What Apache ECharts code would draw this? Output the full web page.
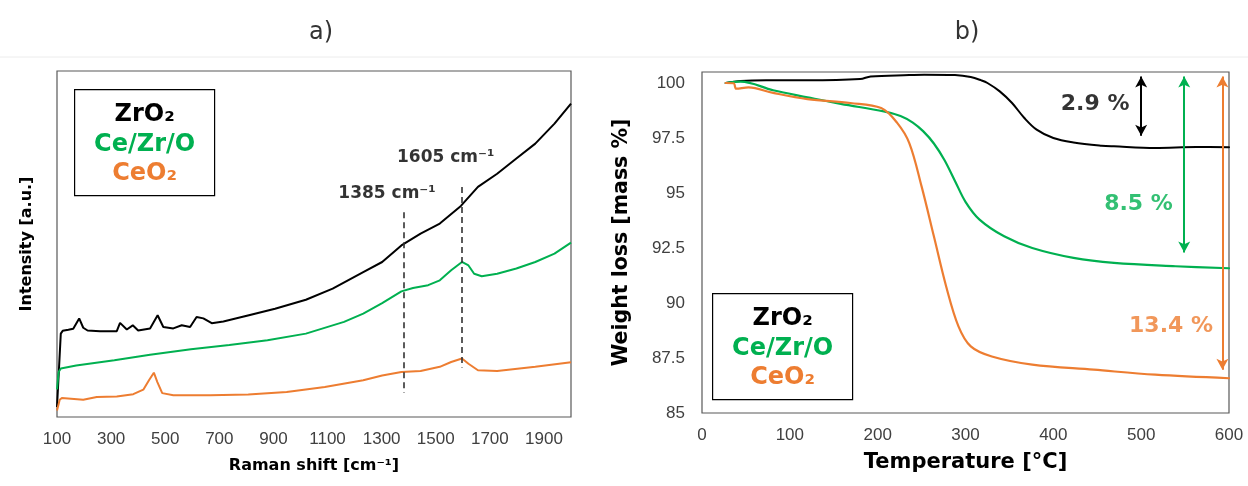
<!DOCTYPE html>
<html>
<head>
<meta charset="utf-8">
<script src="https://cdn.jsdelivr.net/npm/echarts@6/dist/echarts.min.js"></script>
<style>
html,body{margin:0;padding:0;background:#fff;}
#chart{width:1248px;height:486px;}
</style>
</head>
<body>
<div id="chart"></div>
<script>
// ---------- Panel a) Raman (arbitrary intensity units) ----------
const ramanTicks = [100, 300, 500, 700, 900, 1100, 1300, 1500, 1700, 1900];
const ramanZrO2 = [[100,2.9],[114,24.1],[121,24.9],[142,25.2],[160,25.5],[182,28.5],[197,25.8],[213,25.0],[259,24.8],[321,24.8],[333,27.2],[358,25.3],[380,26.5],[400,25.0],[444,25.6],[472,29.4],[493,26.0],[530,25.6],[561,26.5],[592,26.0],[616,28.9],[641,28.5],[672,27.1],[715,27.6],[813,29.5],[906,31.3],[1020,33.9],[1119,37.1],[1232,41.9],[1302,44.8],[1373,49.6],[1444,53.0],[1515,55.9],[1593,61.0],[1656,66.5],[1727,70.3],[1798,74.7],[1868,79.0],[1939,84.8],[2000,90.6]];
const ramanCeZrO = [[100,8.0],[106,13.0],[114,14.0],[171,14.9],[312,16.4],[444,18.0],[595,19.6],[737,20.8],[878,22.2],[1020,24.1],[1161,27.5],[1232,29.9],[1302,32.9],[1373,36.3],[1416,37.3],[1472,38.1],[1515,39.5],[1557,42.4],[1597,44.8],[1621,43.8],[1642,41.4],[1670,40.7],[1727,41.4],[1798,42.9],[1868,44.8],[1939,47.2],[2000,50.4]];
const ramanCeO2 = [[100,1.9],[110,5.0],[118,5.5],[197,5.0],[247,5.8],[321,5.9],[382,6.6],[419,7.9],[440,10.6],[458,12.8],[471,10.1],[489,6.9],[530,6.3],[666,6.3],[807,6.5],[949,7.2],[1090,8.7],[1232,10.6],[1302,12.0],[1373,13.0],[1444,13.3],[1515,14.5],[1557,15.9],[1597,16.9],[1621,15.4],[1656,13.5],[1727,13.3],[1868,14.5],[2000,15.8]];
// dashed marker lines: [x, yTop, yBottom]
const ramanMarkers = [[1380, 59.2, 7.0], [1596, 66.5, 14.3]];
const ramanMarkerLabels = ['1385 cm\u207B\u00B9', '1605 cm\u207B\u00B9'];
const ramanMarkerLabelPos = [[1320, 64.6], [1537, 75.0]];

// ---------- Panel b) TGA ----------
const tgaTicksX = [0, 100, 200, 300, 400, 500, 600];
const tgaTicksY = [85, 87.5, 90, 92.5, 95, 97.5, 100];
const tgaZrO2 = [[27,100.0],[44,100.09],[73,100.12],[120,100.12],[180,100.18],[192,100.3],[236,100.36],[253,100.38],[288,100.36],[306,100.27],[318,100.12],[325,100.0],[339,99.62],[353,99.09],[367,98.41],[381,97.88],[400,97.5],[423,97.3],[455,97.15],[469,97.12],[516,97.05],[563,97.09],[600,97.08]];
const tgaCeZrO = [[27,100.0],[44,100.06],[81,99.67],[120,99.35],[158,99.05],[207,98.71],[226,98.5],[240,98.2],[252,97.8],[264,97.25],[276,96.5],[288,95.55],[300,94.6],[316,93.79],[344,93.03],[376,92.5],[423,92.05],[469,91.82],[539,91.67],[600,91.58]];
const tgaCeO2 = [[27,100.0],[36,99.99],[39,99.74],[53,99.8],[81,99.55],[120,99.27],[169,99.09],[204,98.86],[222,98.2],[236,97.27],[250,95.3],[264,93.03],[278,90.75],[292,88.94],[306,88.03],[330,87.57],[376,87.2],[446,86.97],[516,86.74],[600,86.58]];
// loss arrows: [x, yTop, yBottom]
const lossArrows = [[500, 100.3, 97.6], [549, 100.3, 92.3], [592.5, 100.3, 86.97]];
const lossLabels = ['2.9 %', '8.5 %', '13.4 %'];
const lossLabelPos = [[447.6, 99.01], [497, 94.47], [534, 88.94]];

const names = ['ZrO\u2082', 'Ce/Zr/O', 'CeO\u2082'];
const colors = ['#000000', '#00B050', '#ED7D31'];

const tickFont = {fontFamily: 'Liberation Sans', fontSize: 17, color: '#404040'};
const boldFont = 'DejaVu Sans';

const chart = echarts.init(document.getElementById('chart'), null, {renderer: 'canvas'});

function legendGroup(x, y) {
  return {
    type: 'group', left: x, top: y,
    children: [
      {type: 'rect', shape: {x: 0, y: 0, width: 140, height: 106}, style: {fill: '#fff', stroke: '#000', lineWidth: 1.2}},
      {type: 'text', x: 70, y: 25, style: {text: names[0], fill: colors[0], font: 'bold 24px ' + boldFont, textAlign: 'center', textVerticalAlign: 'middle'}},
      {type: 'text', x: 70, y: 55, style: {text: names[1], fill: colors[1], font: 'bold 24px ' + boldFont, textAlign: 'center', textVerticalAlign: 'middle'}},
      {type: 'text', x: 70, y: 84, style: {text: names[2], fill: colors[2], font: 'bold 24px ' + boldFont, textAlign: 'center', textVerticalAlign: 'middle'}}
    ]
  };
}

const tgaLine = (data, i, w) => ({type: 'line', xAxisIndex: 1, yAxisIndex: 1, data: data, showSymbol: false, smooth: 0.35,
  lineStyle: {color: colors[i], width: w, cap: 'round', join: 'round'}, z: 3});

const option = {
  backgroundColor: '#fff',
  animation: false,
  grid: [
    {left: 57, top: 71, width: 514, height: 346, show: true, borderColor: '#595959', borderWidth: 1.2, backgroundColor: 'transparent'},
    {left: 702, top: 72, width: 527, height: 341, show: true, borderColor: '#595959', borderWidth: 1.2, backgroundColor: 'transparent'}
  ],
  xAxis: [
    {gridIndex: 0, type: 'value', min: 100, max: 2000, interval: 200,
     axisLine: {show: false}, axisTick: {show: false}, splitLine: {show: false},
     axisLabel: Object.assign({margin: 14, showMaxLabel: false, formatter: v => ramanTicks.includes(v) ? String(v) : ''}, tickFont),
     name: 'Raman shift [cm\u207B\u00B9]', nameLocation: 'middle', nameGap: 41,
     nameTextStyle: {fontFamily: boldFont, fontWeight: 'bold', fontSize: 16, color: '#000'}},
    {gridIndex: 1, type: 'value', min: 0, max: 600, interval: 100,
     axisLine: {show: false}, axisTick: {show: false}, splitLine: {show: false},
     axisLabel: Object.assign({margin: 14, formatter: v => tgaTicksX.includes(v) ? String(v) : ''}, tickFont),
     name: 'Temperature [\u00B0C]', nameLocation: 'middle', nameGap: 39,
     nameTextStyle: {fontFamily: boldFont, fontWeight: 'bold', fontSize: 21, color: '#000'}}
  ],
  yAxis: [
    {gridIndex: 0, type: 'value', min: 0, max: 100,
     axisLine: {show: false}, axisTick: {show: false}, splitLine: {show: false}, axisLabel: {show: false},
     name: 'Intensity [a.u.]', nameLocation: 'middle', nameGap: 22,
     nameTextStyle: {fontFamily: boldFont, fontWeight: 'bold', fontSize: 16, color: '#000'}},
    {gridIndex: 1, type: 'value', min: 85, max: 100.5, interval: 2.5,
     axisLine: {show: false}, axisTick: {show: false}, splitLine: {show: false},
     axisLabel: Object.assign({margin: 17, showMaxLabel: false, formatter: v => tgaTicksY.includes(v) ? String(v) : ''}, tickFont),
     name: 'Weight loss [mass %]', nameLocation: 'middle', nameGap: 70,
     nameTextStyle: {fontFamily: boldFont, fontWeight: 'bold', fontSize: 20.5, color: '#000'}}
  ],
  series: [
    {type: 'line', name: 'ramanZrO2', xAxisIndex: 0, yAxisIndex: 0, data: ramanZrO2, showSymbol: false, lineStyle: {color: colors[0], width: 2}, z: 3},
    {type: 'line', name: 'ramanCeZrO', xAxisIndex: 0, yAxisIndex: 0, data: ramanCeZrO, showSymbol: false, lineStyle: {color: colors[1], width: 2}, z: 3},
    {type: 'line', name: 'ramanCeO2', xAxisIndex: 0, yAxisIndex: 0, data: ramanCeO2, showSymbol: false, lineStyle: {color: colors[2], width: 2}, z: 3,
     markLine: {silent: true, symbol: ['none', 'none'], animation: false,
       lineStyle: {color: '#333', width: 1.6, type: [6, 4]}, label: {show: false},
       data: ramanMarkers.map(m => [{coord: [m[0], m[1]]}, {coord: [m[0], m[2]]}])}},
    {type: 'scatter', xAxisIndex: 0, yAxisIndex: 0, symbolSize: 0, silent: true, z: 5,
     data: ramanMarkerLabelPos.map((p, i) => ({value: p, label: {formatter: ramanMarkerLabels[i]}})),
     label: {show: true, position: 'inside', fontFamily: boldFont, fontWeight: 'bold', fontSize: 17, color: '#000'}},

    tgaLine(tgaZrO2, 0, 2),
    tgaLine(tgaCeZrO, 1, 2.2),
    Object.assign(tgaLine(tgaCeO2, 2, 2.2), {
     markLine: {silent: true, symbol: ['arrow', 'arrow'], symbolSize: [9, 11], animation: false, label: {show: false},
       data: lossArrows.map((a, i) => [{coord: [a[0], a[1]], lineStyle: {color: colors[i], width: 2, type: 'solid'}, itemStyle: {color: colors[i]}},
                                        {coord: [a[0], a[2]], lineStyle: {color: colors[i], width: 2, type: 'solid'}, itemStyle: {color: colors[i]}}])}}),
    {type: 'scatter', xAxisIndex: 1, yAxisIndex: 1, symbolSize: 0, silent: true, z: 5,
     data: lossLabelPos.map((p, i) => ({value: p, label: {formatter: lossLabels[i], color: colors[i]}})),
     label: {show: true, position: 'inside', fontFamily: boldFont, fontWeight: 'bold', fontSize: 22}}
  ],
  graphic: [
    {type: 'line', shape: {x1: 0, y1: 57, x2: 1248, y2: 57}, style: {stroke: '#ececec', lineWidth: 1}, silent: true},
    {type: 'text', x: 321, y: 33, style: {text: 'a)', font: '24px DejaVu Sans', fill: '#333', textAlign: 'center', textVerticalAlign: 'middle'}},
    {type: 'text', x: 967, y: 33, style: {text: 'b)', font: '24px DejaVu Sans', fill: '#333', textAlign: 'center', textVerticalAlign: 'middle'}},
    legendGroup(74, 89),
    legendGroup(712, 293)
  ]
};
chart.setOption(option);
</script>
</body>
</html>
